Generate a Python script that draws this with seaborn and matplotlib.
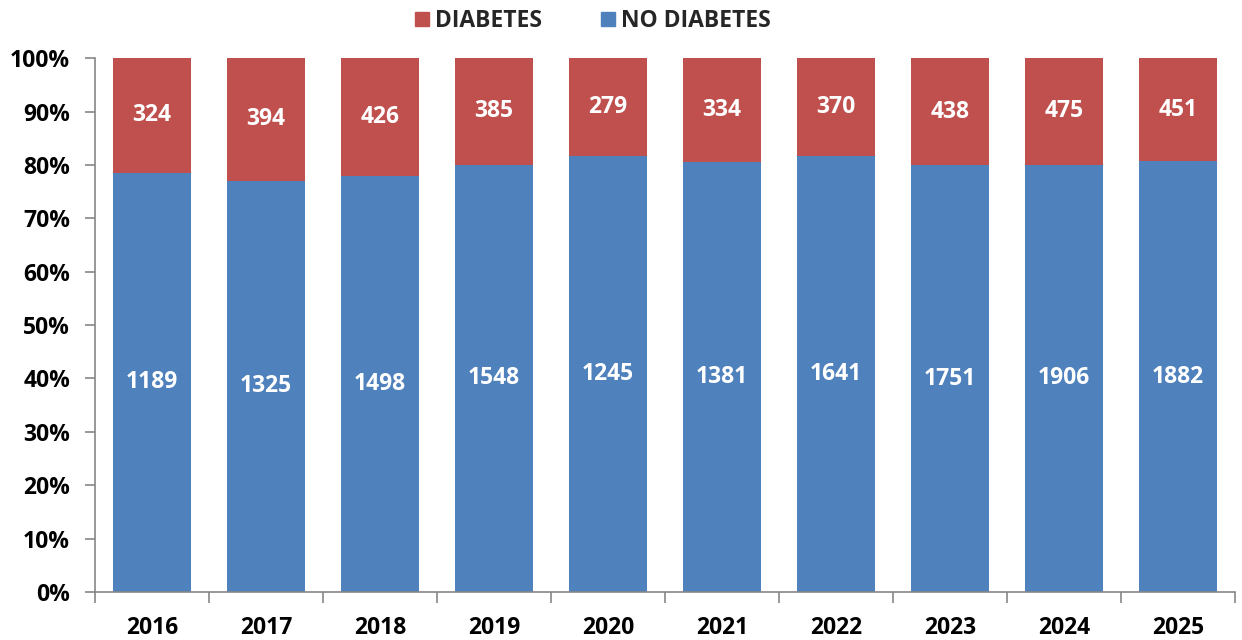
import matplotlib
matplotlib.use("Agg")
import matplotlib.pyplot as plt
from matplotlib.lines import Line2D
from matplotlib.ticker import FuncFormatter, MultipleLocator
import numpy as np
import pandas as pd
import seaborn as sns

years = ["2016", "2017", "2018", "2019", "2020", "2021", "2022", "2023", "2024", "2025"]
diabetes = [324, 394, 426, 385, 279, 334, 370, 438, 475, 451]
no_diabetes = [1189, 1325, 1498, 1548, 1245, 1381, 1641, 1751, 1906, 1882]

RED = "#C0504D"
BLUE = "#4F81BD"
GRAY = "#868686"
FS = 16.5

df = pd.DataFrame({"year": years, "diabetes": diabetes, "no_diabetes": no_diabetes})
df["total"] = df["diabetes"] + df["no_diabetes"]
df["pct_no"] = df["no_diabetes"] / df["total"] * 100
df["pct_all"] = df["total"] / df["total"] * 100

sns.set_theme(style="white")
plt.rcParams["font.family"] = ["Open Sans", "DejaVu Sans"]
plt.rcParams["font.weight"] = "bold"

fig = plt.figure(figsize=(12.42, 6.4), dpi=100)
ax = fig.add_axes([0.0765, 0.075, 0.918, 0.834])

# full-height red bars, then the blue share drawn over them
sns.barplot(data=df, x="year", y="pct_all", color=RED, width=0.68,
            saturation=1, ax=ax, linewidth=0)
sns.barplot(data=df, x="year", y="pct_no", color=BLUE, width=0.68,
            saturation=1, ax=ax, linewidth=0)

for i, row in df.iterrows():
    ax.text(i, row["pct_no"] / 2, f"{row['no_diabetes']}", ha="center", va="center",
            color="white", fontsize=FS, fontweight="bold")
    ax.text(i, (row["pct_no"] + 100) / 2, f"{row['diabetes']}", ha="center", va="center",
            color="white", fontsize=FS, fontweight="bold")

ax.set_xlim(-0.5, len(years) - 0.5)
ax.set_ylim(0, 100)
ax.yaxis.set_major_locator(MultipleLocator(10))
ax.yaxis.set_major_formatter(FuncFormatter(lambda v, p: f"{v:.0f}%"))
ax.set_xlabel("")
ax.set_ylabel("")

# x ticks sit on category boundaries, labels centred under bars
ax.set_xticks(np.arange(len(years) + 1) - 0.5, minor=False)
ax.set_xticklabels([])
ax.set_xticks(np.arange(len(years)), minor=True)
ax.set_xticklabels(years, minor=True)
ax.tick_params(axis="x", which="major", direction="out", length=8, width=1.2,
               color=GRAY, bottom=True)
ax.tick_params(axis="x", which="minor", length=0, pad=17, labelsize=FS)
ax.tick_params(axis="y", direction="out", length=7, width=1.2, color=GRAY,
               left=True, labelsize=FS, pad=11)
for lbl in ax.get_xticklabels(minor=True) + ax.get_yticklabels():
    lbl.set_fontweight("bold")
    lbl.set_color("black")

for side in ["top", "right"]:
    ax.spines[side].set_visible(False)
for side in ["left", "bottom"]:
    ax.spines[side].set_color(GRAY)
    ax.spines[side].set_linewidth(1.2)

handles = [Line2D([], [], marker="s", linestyle="none", markersize=10.5,
                  markerfacecolor=RED, markeredgecolor=RED, label="DIABETES"),
           Line2D([], [], marker="s", linestyle="none", markersize=10.5,
                  markerfacecolor=BLUE, markeredgecolor=BLUE, label="NO DIABETES")]
fig.legend(handles=handles, loc="center", bbox_to_anchor=(0.476, 0.967), ncol=2,
           frameon=False, prop={"size": FS, "weight": "bold"},
           handlelength=0.9, handletextpad=0.15, columnspacing=2.4)

fig.savefig("out.png", dpi=100)
